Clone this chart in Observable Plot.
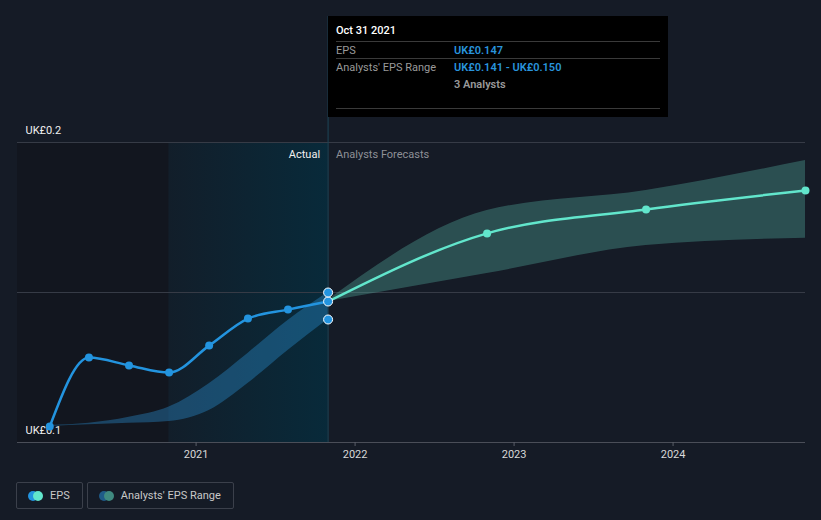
<!DOCTYPE html>
<html>
<head>
<meta charset="utf-8">
<script src="https://cdn.jsdelivr.net/npm/d3@7"></script>
<script src="https://cdn.jsdelivr.net/npm/@observablehq/plot@0.6"></script>
<style>
  html, body { margin: 0; padding: 0; background: #151b26; }
  body { font-family: Roboto, "Noto Sans", sans-serif; }
  #wrap { position: relative; width: 821px; height: 520px; background: #151b26; overflow: hidden; }
  #tip { position: absolute; top: 16px; height: 101px; width: 340px; background: #000; color: #9a9a9a; font-size: 11px; box-sizing: border-box; padding: 0 8px; }
  #tip .date { color: #fff; font-weight: 500; height: 25px; line-height: 30px; border-bottom: 1px solid #3a3a3a; }
  #tip .row { display: flex; height: 17px; line-height: 17px; }
  #tip .row.sep { border-bottom: 1px solid #3a3a3a; height: 16px; }
  #tip .k { width: 118px; }
  #tip .v { color: #2994dc; font-weight: 600; }
  #tip .n { color: #9a9a9a; font-weight: 600; }
  #tip .end { position: absolute; left: 8px; right: 8px; top: 92px; border-top: 1px solid #3a3a3a; }
  #legend { position: absolute; top: 482px; left: 16px; display: flex; gap: 4px; }
  .lg { height: 27px; box-sizing: border-box; border: 1px solid #3b404b; border-radius: 2px; display: flex; align-items: center; padding: 0 12px 0 11px; color: #c8c8c8; font-size: 11px; }
  .sw { position: relative; width: 14px; height: 10px; margin-right: 8px; }
  .sw span { position: absolute; top: 0; width: 10px; height: 10px; border-radius: 50%; }
</style>
</head>
<body>
<div id="wrap"></div>
<script>
// ---- data ----
const actualDates = ["2020-01-31","2020-04-30","2020-07-31","2020-10-31","2021-01-31","2021-04-30","2021-07-31","2021-10-31"];
const actualEps   = [0.1053, 0.1283, 0.1257, 0.1233, 0.1323, 0.1413, 0.1443, 0.147];
const pastLow     = [0.1053, 0.1059, 0.1064, 0.1070, 0.1107, 0.1197, 0.1307, 0.141];
const pastHigh    = [0.1057, 0.1064, 0.1084, 0.1118, 0.1196, 0.1297, 0.1407, 0.150];

const fcDates = ["2021-10-31","2022-10-31","2023-10-31","2024-10-31"];
const fcEps   = [0.147, 0.1697, 0.1777, 0.184];
const fcLow   = [0.147, 0.1563, 0.1657, 0.1681];
const fcHigh  = [0.1475, 0.1773, 0.1840, 0.194];

const lastActual = "2021-10-31";
const rangeAtLast = [0.141, 0.147, 0.150];
const yTickVals = [0.1, 0.15, 0.2];
const yLabelVals = [0.1, 0.2];
const yearTicks = ["2021-01-01","2022-01-01","2023-01-01","2024-01-01"];
const xDomain = ["2019-11-18","2024-10-31"];
const pastStart = "2020-10-31";

const D = s => new Date(s);
const actual = actualDates.map((d,i)=>({date:D(d), eps:actualEps[i], lo:pastLow[i], hi:pastHigh[i]}));
const fc = fcDates.map((d,i)=>({date:D(d), eps:fcEps[i], lo:fcLow[i], hi:fcHigh[i]}));

const fmt = v => "UK£" + d3.format(".1f")(v);

const defs = () => {
  const s = d3.create("svg:defs");
  const g = s.append("linearGradient").attr("id","hl").attr("x1","0").attr("x2","1").attr("y1","0").attr("y2","0");
  g.append("stop").attr("offset","0").attr("stop-color","#121e2a");
  g.append("stop").attr("offset","1").attr("stop-color","#082a3a");
  return s.node();
};

const plot = Plot.plot({
  width: 821,
  height: 470,
  marginLeft: 17,
  marginRight: 16,
  marginTop: 142,
  marginBottom: 28,
  style: {background: "#151b26", color: "#d0d0d0", fontFamily: "Roboto, 'Noto Sans', sans-serif", fontSize: "11px", overflow: "visible"},
  x: {type: "utc", domain: xDomain.map(D)},
  y: {domain: [0.1, 0.2], axis: null},
  marks: [
    defs,
    Plot.rectX([0], {x1: () => D(xDomain[0]), x2: () => D(pastStart), y1: 0.1, y2: 0.2, fill: "#12161f"}),
    Plot.rectX([0], {x1: () => D(pastStart), x2: () => D(lastActual), y1: 0.1, y2: 0.2, fill: "url(#hl)"}),
    Plot.ruleY(yTickVals, {stroke: (d) => d === 0.1 ? "#4a4e58" : "#363b46", strokeWidth: 1}),
    Plot.ruleX([D(lastActual)], {stroke: "#1d4656", strokeWidth: 1, insetTop: -126}),
    Plot.axisX(yearTicks.map(D), {tickSize: 4, tickPadding: 4, tickFormat: d3.utcFormat("%Y"), stroke: "#5a5e68", fill: "#d8d8d8"}),
    Plot.text(yLabelVals, {y: d => d, frameAnchor: "left", dx: 8, dy: -12, text: fmt, textAnchor: "start", fill: "#f0f0f0", fontSize: 11}),
    Plot.text([0], {x: () => D(lastActual), y: () => 0.2, dx: -8, dy: 12, text: () => "Actual", textAnchor: "end", fill: "#f0f0f0"}),
    Plot.text([0], {x: () => D(lastActual), y: () => 0.2, dx: 8, dy: 12, text: () => "Analysts Forecasts", textAnchor: "start", fill: "#8e9096"}),
    Plot.areaY(actual, {x: "date", y1: "lo", y2: "hi", fill: "#2f9ae2", fillOpacity: 0.35, curve: "monotone-x"}),
    Plot.areaY(fc, {x: "date", y1: "lo", y2: "hi", fill: "#57b2a4", fillOpacity: 0.35, curve: "monotone-x"}),
    Plot.line(fc, {x: "date", y: "eps", stroke: "#62e6cc", strokeWidth: 2.5, curve: "monotone-x"}),
    Plot.dot(fc.slice(1), {x: "date", y: "eps", r: 4, fill: "#62e6cc"}),
    Plot.line(actual, {x: "date", y: "eps", stroke: "#2394df", strokeWidth: 2.5, curve: "monotone-x"}),
    Plot.dot(actual.slice(0, -1), {x: "date", y: "eps", r: 4, fill: "#2394df"}),
    Plot.dot(rangeAtLast, {x: () => D(lastActual), y: d => d, r: 4.5, fill: "#2394df", stroke: "#ffffff", strokeWidth: 1})
  ]
});

const wrap = document.getElementById("wrap");
wrap.appendChild(plot);

const tx = plot.scale("x").apply(D(lastActual));
const tip = document.createElement("div");
tip.id = "tip";
tip.style.left = Math.round(tx) + "px";
tip.innerHTML = `
  <div class="date">Oct 31 2021</div>
  <div class="row sep"><div class="k">EPS</div><div class="v">UK£0.147</div></div>
  <div class="row"><div class="k">Analysts' EPS Range</div><div class="v">UK£0.141 - UK£0.150</div></div>
  <div class="row"><div class="k"></div><div class="n">3 Analysts</div></div>
  <div class="end"></div>`;
wrap.appendChild(tip);

const legend = document.createElement("div");
legend.id = "legend";
legend.innerHTML = `
  <div class="lg"><div class="sw"><span style="left:0;background:#2394df"></span><span style="left:5px;background:#62e6cc"></span></div>EPS</div>
  <div class="lg"><div class="sw"><span style="left:0;background:#1f5b88"></span><span style="left:5px;background:#3f8a80"></span></div>Analysts' EPS Range</div>`;
wrap.appendChild(legend);
</script>
</body>
</html>
